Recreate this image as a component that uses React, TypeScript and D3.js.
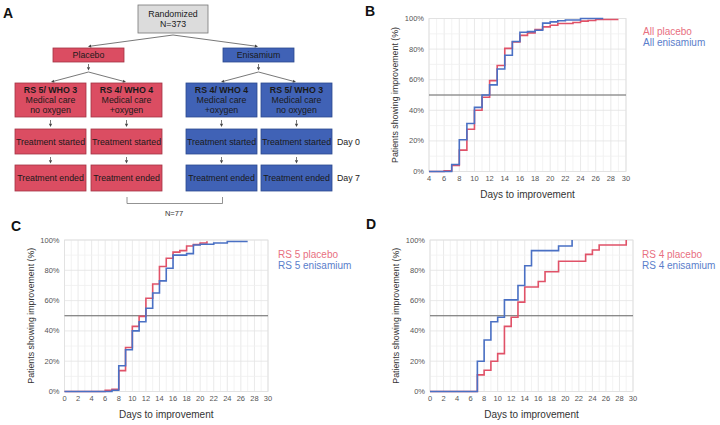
import React from "react";
import * as d3 from "d3";

// ---------- Data ----------
const bPlaceboDays = [4, 6, 7, 8, 9, 10, 11, 12, 13, 14, 15, 16, 17, 18, 19, 20, 21, 23, 24, 25, 26, 29];
const bPlaceboPct = [0, 0.5, 4, 14, 27.6, 40, 48.5, 59.4, 69.3, 80.5, 84.6, 89, 90.6, 92.8, 94.5, 95.6, 96.7, 97.4, 98.3, 98.7, 99.3, 99.3];
const bEnisDays = [4, 7, 8, 9, 10, 11, 12, 13, 14, 15, 16, 17, 18, 19, 20, 21, 22, 24, 27];
const bEnisPct = [0, 4.6, 20.8, 31.4, 41.9, 50, 56.6, 67, 76, 85, 91, 91.4, 92.3, 97, 97.8, 98.5, 99, 100, 100];

const cPlaceboDays = [0, 6, 7, 8, 9, 10, 11, 12, 13, 14, 15, 16, 17, 18, 19, 20, 21];
const cPlaceboPct = [0, 0.8, 1.5, 13.8, 29, 43, 49.6, 61.6, 71, 82.5, 88, 92, 93, 96, 97, 98, 99.2];
const cEnisDays = [0, 7, 8, 9, 10, 11, 12, 13, 14, 15, 16, 18, 19, 20, 22, 24, 27];
const cEnisPct = [0, 0.8, 17, 27.6, 40, 46, 55, 65, 73, 81.4, 90, 91, 96.7, 97.2, 98, 99, 99];

const dPlaceboDays = [0, 7, 8, 9, 10, 11, 12, 13, 14, 16, 17, 19, 23, 24, 25, 29];
const dPlaceboPct = [0, 11, 14, 20, 25, 43, 49, 59, 69, 72.6, 79, 86, 90.5, 93.4, 96.7, 100];
const dEnisDays = [0, 7, 8, 9, 10, 11, 13, 14, 15, 19, 21];
const dEnisPct = [0, 20, 34, 46, 49, 60.5, 70, 83, 93, 96, 100];

const yTicks = [0, 20, 40, 60, 80, 100];

const legendB = ["All placebo", "All enisamium"];
const legendC = ["RS 5 placebo", "RS 5 enisamium"];
const legendD = ["RS 4 placebo", "RS 4 enisamium"];

const groupTitles = ["RS 5/ WHO 3", "RS 4/ WHO 4", "RS 4/ WHO 4", "RS 5/ WHO 3"];
const groupLine2 = ["Medical care", "Medical care", "Medical care", "Medical care"];
const groupLine3 = ["no oxygen", "+oxygen", "+oxygen", "no oxygen"];
const armNames = ["Placebo", "Enisamium"];

const FONT = "'Liberation Sans', Arial, Helvetica, sans-serif";
const RED = "#e05268";
const BLUE = "#4a70c4";
const RED_TXT = "#e8707f";
const BLUE_TXT = "#5a7ecb";
const BOX_RED = "#db4d62";
const BOX_BLUE = "#4062b6";

type PanelProps = {
  letter: string;
  letterX: number;
  letterY: number;
  x0: number;
  x1: number;
  y0: number;
  y1: number;
  dom: [number, number];
  pDays: number[];
  pPct: number[];
  eDays: number[];
  ePct: number[];
  legend: string[];
  legendX: number;
  legendY: number;
};

function Panel(p: PanelProps) {
  const x = d3.scaleLinear().domain(p.dom).range([p.x0, p.x1]);
  const y = d3.scaleLinear().domain([0, 100]).range([p.y1, p.y0]);
  const xTicks = d3.range(p.dom[0], p.dom[1] + 1, 2);
  const minorX = d3.range(p.dom[0], p.dom[1] + 1, 1);
  const minorY = d3.range(0, 101, 10);
  const line = d3
    .line<[number, number]>()
    .x((d) => x(d[0]))
    .y((d) => y(d[1]))
    .curve(d3.curveStepAfter);
  const pData = p.pDays.map((d, i) => [d, p.pPct[i]] as [number, number]);
  const eData = p.eDays.map((d, i) => [d, p.ePct[i]] as [number, number]);
  const midY = (p.y0 + p.y1) / 2;
  return (
    <g fontFamily={FONT}>
      <text x={p.letterX} y={p.letterY} fontSize={14} fontWeight="bold" fill="#111">
        {p.letter}
      </text>
      {minorX.map((d) => (
        <line key={"vx" + d} x1={x(d)} x2={x(d)} y1={p.y0} y2={p.y1} stroke={d % 2 === 0 ? "#e3e3e3" : "#f0f0f0"} strokeWidth={0.8} />
      ))}
      {minorY.map((d) => (
        <line key={"hy" + d} x1={p.x0} x2={p.x1} y1={y(d)} y2={y(d)} stroke={d % 20 === 0 ? "#e3e3e3" : "#f0f0f0"} strokeWidth={0.8} />
      ))}
      <rect x={p.x0} y={p.y0} width={p.x1 - p.x0} height={p.y1 - p.y0} fill="none" stroke="#e0e0e0" strokeWidth={0.8} />
      <line x1={p.x0} x2={p.x1} y1={y(50)} y2={y(50)} stroke="#666" strokeWidth={1} />
      <path d={line(pData) || ""} fill="none" stroke={RED} strokeWidth={1.6} />
      <path d={line(eData) || ""} fill="none" stroke={BLUE} strokeWidth={1.6} />
      {yTicks.map((t) => (
        <text key={"yt" + t} x={p.x0 - 5} y={y(t) + 2.5} fontSize={7.5} fill="#555" textAnchor="end">
          {t + "%"}
        </text>
      ))}
      {xTicks.map((t) => (
        <text key={"xt" + t} x={x(t)} y={p.y1 + 9.5} fontSize={7.5} fill="#555" textAnchor="middle">
          {t}
        </text>
      ))}
      <text x={(p.x0 + p.x1) / 2} y={p.y1 + 26} fontSize={10} fill="#333" textAnchor="middle">
        Days to improvement
      </text>
      <text
        transform={`translate(${p.x0 - 33},${midY}) rotate(-90)`}
        fontSize={8.8}
        fill="#333"
        textAnchor="middle"
        dominantBaseline="middle"
      >
        Patients showing improvement (%)
      </text>
      <text x={p.legendX} y={p.legendY} fontSize={10} fill={RED_TXT}>
        {p.legend[0]}
      </text>
      <text x={p.legendX} y={p.legendY + 11} fontSize={10} fill={BLUE_TXT}>
        {p.legend[1]}
      </text>
    </g>
  );
}

function Box(props: { x: number; y: number; w: number; h: number; fill: string; stroke: string; lines: { t: string; bold?: boolean }[]; fs?: number }) {
  const fs = props.fs || 8.8;
  const n = props.lines.length;
  const lh = 10.2;
  const cy = props.y + props.h / 2;
  return (
    <g>
      <rect x={props.x} y={props.y} width={props.w} height={props.h} fill={props.fill} stroke={props.stroke} strokeWidth={0.8} />
      {props.lines.map((l, i) => (
        <text
          key={i}
          x={props.x + props.w / 2}
          y={cy + (i - (n - 1) / 2) * lh + fs * 0.35}
          fontSize={fs}
          fontWeight={l.bold ? "bold" : "normal"}
          fill="#1a1a1a"
          textAnchor="middle"
        >
          {l.t}
        </text>
      ))}
    </g>
  );
}

function Arrow(props: { x1: number; y1: number; x2: number; y2: number }) {
  const { x1, y1, x2, y2 } = props;
  const ang = Math.atan2(y2 - y1, x2 - x1);
  const L = 3.2;
  const W = 1.6;
  const bx = x2 - L * Math.cos(ang);
  const by = y2 - L * Math.sin(ang);
  const px = -Math.sin(ang) * W;
  const py = Math.cos(ang) * W;
  return (
    <g>
      <line x1={x1} y1={y1} x2={bx} y2={by} stroke="#555" strokeWidth={0.8} />
      <path d={`M${x2},${y2} L${bx + px},${by + py} L${bx - px},${by - py} Z`} fill="#444" />
    </g>
  );
}

function Flow() {
  const colX = [15, 91, 186, 261];
  const colW = 71;
  const colFill = [BOX_RED, BOX_RED, BOX_BLUE, BOX_BLUE];
  const colStroke = ["#a33444", "#a33444", "#2c4a8e", "#2c4a8e"];
  return (
    <g fontFamily={FONT}>
      <text x={3} y={17.5} fontSize={14} fontWeight="bold" fill="#111">
        A
      </text>
      <Box x={138} y={5} w={70} h={28} fill="#dcdcdc" stroke="#777" lines={[{ t: "Randomized" }, { t: "N=373" }]} />
      <Arrow x1={173} y1={35} x2={88} y2={46.5} />
      <Arrow x1={173} y1={35} x2={258} y2={46.5} />
      <Box x={53} y={48} w={71} h={14} fill={BOX_RED} stroke="#a33444" lines={[{ t: armNames[0] }]} />
      <Box x={223} y={48} w={71} h={14} fill={BOX_BLUE} stroke="#2c4a8e" lines={[{ t: armNames[1] }]} />
      <Arrow x1={88.5} y1={64} x2={88.5} y2={70.5} />
      <Arrow x1={258.5} y1={64} x2={258.5} y2={70.5} />
      <Arrow x1={88.5} y1={72} x2={51} y2={82} />
      <Arrow x1={88.5} y1={72} x2={126} y2={82} />
      <Arrow x1={258.5} y1={72} x2={221} y2={82} />
      <Arrow x1={258.5} y1={72} x2={296} y2={82} />
      {colX.map((cx, i) => (
        <g key={i}>
          <Box
            x={cx}
            y={83}
            w={colW}
            h={34}
            fill={colFill[i]}
            stroke={colStroke[i]}
            lines={[{ t: groupTitles[i], bold: true }, { t: groupLine2[i] }, { t: groupLine3[i] }]}
          />
          <Arrow x1={cx + colW / 2} y1={120} x2={cx + colW / 2} y2={127} />
          <Box x={cx} y={129} w={colW} h={25} fill={colFill[i]} stroke={colStroke[i]} lines={[{ t: "Treatment started" }]} />
          <Arrow x1={cx + colW / 2} y1={157} x2={cx + colW / 2} y2={163.5} />
          <Box x={cx} y={165} w={colW} h={26} fill={colFill[i]} stroke={colStroke[i]} lines={[{ t: "Treatment ended" }]} />
        </g>
      ))}
      <text x={337} y={145} fontSize={8.8} fill="#222">
        Day 0
      </text>
      <text x={337} y={181} fontSize={8.8} fill="#222">
        Day 7
      </text>
      <path d="M127,197 L127,203.5 L222.5,203.5 L222.5,197" fill="none" stroke="#777" strokeWidth={0.8} />
      <text x={174} y={216} fontSize={7.5} fill="#333" textAnchor="middle">
        N=77
      </text>
    </g>
  );
}

export default function App() {
  return (
    <svg width={720} height={425} style={{ position: "absolute", left: 0, top: 0, background: "#fff" }}>
      <rect width={720} height={425} fill="#fff" />
      <Flow />
      <Panel
        letter="B" letterX={365} letterY={16}
        x0={429} x1={626} y0={18.5} y1={171.5} dom={[4, 30]}
        pDays={bPlaceboDays} pPct={bPlaceboPct} eDays={bEnisDays} ePct={bEnisPct}
        legend={legendB} legendX={643} legendY={35}
      />
      <Panel
        letter="C" letterX={11} letterY={231}
        x0={64.5} x1={268} y0={240} y1={391.5} dom={[0, 30]}
        pDays={cPlaceboDays} pPct={cPlaceboPct} eDays={cEnisDays} ePct={cEnisPct}
        legend={legendC} legendX={278} legendY={258}
      />
      <Panel
        letter="D" letterX={366} letterY={229}
        x0={430} x1={633} y0={240} y1={391.5} dom={[0, 30]}
        pDays={dPlaceboDays} pPct={dPlaceboPct} eDays={dEnisDays} ePct={dEnisPct}
        legend={legendD} legendX={642} legendY={258}
      />
    </svg>
  );
}
